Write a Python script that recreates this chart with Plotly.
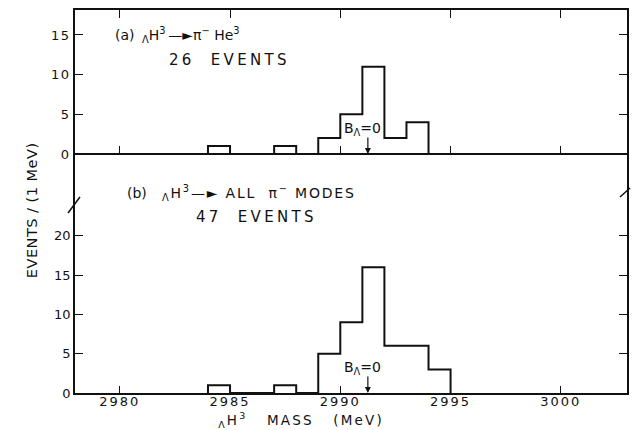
import plotly.graph_objects as go

# Hypertriton mass spectra, 1 MeV bins (left bin edges)
bin_left = [2984, 2985, 2986, 2987, 2988, 2989, 2990, 2991, 2992, 2993, 2994]
counts_a = [1, 0, 0, 1, 0, 2, 5, 11, 2, 4, 0]     # (a) pi- He3 mode, 26 events
counts_b = [1, 0, 0, 1, 0, 5, 9, 16, 6, 6, 3]     # (b) all pi- modes, 47 events
mass_ticks = [2980, 2985, 2990, 2995, 3000]
ticks_a = [0, 5, 10, 15]
ticks_b = [0, 5, 10, 15, 20]
b_zero_mass = 2991.25                              # B_Lambda = 0 threshold

INK = "#111111"
FONT = "DejaVu Sans"

W, H = 633, 430
ML, MR, MT, MB = 75, 4, 10, 37
PLOT_W = W - ML - MR
PLOT_H = H - MT - MB
SPLIT = 0.504                                      # boundary between the two panels

X_RANGE = [2977.97, 3003.0]
YA_RANGE = [-5.8, 18.15]
YB_RANGE = [0, 24.55]


def px2paper(px, py):
    """Convert page pixels to paper coordinates."""
    return (px - ML) / PLOT_W, (H - MB - py) / PLOT_H


def step_xy(counts):
    edges = bin_left + [bin_left[-1] + 1]
    return [edges[0]] + edges, [0] + list(counts) + [0]


def axis_style(ticklen=8, **extra):
    style = dict(showline=True, linecolor=INK, linewidth=1.5, ticks="inside", tickcolor=INK,
                 tickwidth=1.3, ticklen=ticklen, showgrid=False, zeroline=False,
                 tickfont=dict(family=FONT, size=13, color=INK))
    style.update(extra)
    return style


fig = go.Figure()

xa, ya = step_xy(counts_a)
fig.add_trace(go.Scatter(x=xa, y=ya, mode="lines", line=dict(color=INK, width=2, shape="hv"),
                         xaxis="x2", yaxis="y", showlegend=False, hoverinfo="skip"))
# empty trace so the zero-line axis of the upper panel gets its own subplot
fig.add_trace(go.Scatter(x=[], y=[], mode="lines", xaxis="x3", yaxis="y",
                         showlegend=False, hoverinfo="skip"))
xb, yb = step_xy(counts_b)
fig.add_trace(go.Scatter(x=xb, y=yb, mode="lines", line=dict(color=INK, width=2, shape="hv"),
                         xaxis="x", yaxis="y2", showlegend=False, hoverinfo="skip"))

zero_pos = SPLIT + (0 - YA_RANGE[0]) / (YA_RANGE[1] - YA_RANGE[0]) * (1 - SPLIT)

fig.update_layout(
    width=W, height=H,
    margin=dict(l=ML, r=MR, t=MT, b=MB),
    paper_bgcolor="white", plot_bgcolor="white",
    xaxis=axis_style(7, anchor="y2", domain=[0, 1], range=X_RANGE,
                     tickvals=mass_ticks, ticklabelstandoff=-4),
    xaxis2=axis_style(8, anchor="y", side="top", range=X_RANGE,
                      tickvals=mass_ticks, showticklabels=False),
    xaxis3=axis_style(7, overlaying="x2", anchor="free", position=zero_pos,
                      side="bottom", range=X_RANGE, tickvals=mass_ticks, showticklabels=False),
    yaxis=axis_style(8, anchor="x2", domain=[SPLIT, 1], range=YA_RANGE,
                     tickvals=ticks_a, mirror="ticks", ticklabelstandoff=0),
    yaxis2=axis_style(8, anchor="x", domain=[0, SPLIT], range=YB_RANGE,
                      tickvals=ticks_b, mirror="ticks", ticklabelstandoff=0),
)

NB = "\u00a0"
THIN = "\u2009"
annotations = []
spaced = {}          # annotation index -> letter spacing (px)


def add_text(text, x, y, xref, yref, size=14, spacing=0, **kw):
    ann = dict(text=text, x=x, y=y, xref=xref, yref=yref, showarrow=False,
               font=dict(family=FONT, size=size, color=INK))
    ann.update(kw)
    if spacing:
        spaced[len(annotations)] = spacing
    annotations.append(ann)


left = dict(xanchor="left", align="left", yanchor="middle")

# panel (a) header
add_text("(a)", 2979.68, 15, "x2", "y", **left)
add_text(f"<sub>Λ</sub>H<sup>3</sup>{THIN}—►π<sup>−</sup> He<sup>3</sup>", 2980.92, 15,
         "x2", "y", **left)
add_text(f"26{NB*2}EVENTS", 2982.12, 11.85, "x2", "y", size=15, spacing=3.3, **left)

# panel (b) header (placed in paper space: it sits above the lower axis range)
bx, by = px2paper(125, 193)
add_text("(b)", bx, by, "paper", "paper", **left)
fx, fy = px2paper(160, 193)
add_text(f"<sub>Λ</sub>H<sup>3</sup>—► ALL{NB*2}π<sup>−</sup> MODES", fx, fy, "paper", "paper",
         spacing=1.8, **left)
add_text(f"47{NB*2}EVENTS", 2983.38, 22.4, "x", "y2", size=15, spacing=3.3, **left)

# B_Lambda = 0 markers in both panels
for xref, yref in (("x2", "y"), ("x", "y2")):
    annotations.append(dict(text="", x=b_zero_mass, y=0, xref=xref, yref=yref, ax=0, ay=-18,
                            showarrow=True, arrowhead=2, arrowsize=1, arrowwidth=1.2,
                            arrowcolor=INK))
    add_text("B<sub>Λ</sub>=0", b_zero_mass, 0, xref, yref, size=14, xshift=-5, yshift=25,
             xanchor="center", yanchor="middle")

# axis titles
tx, ty = px2paper(302, 420)
add_text(f"<sub>Λ</sub>H<sup>3</sup>{NB*3}MASS{NB*3}(MeV)", tx, ty, "paper", "paper",
         size=13.5, spacing=2.2, xanchor="center", yanchor="middle")
yx, yy = px2paper(32, 210)
add_text("EVENTS / (1 MeV)", yx, yy, "paper", "paper", size=14.5, spacing=0.5,
         xanchor="center", yanchor="middle", textangle=-90)

fig.update_layout(annotations=annotations)

# axis-break strokes on the left and right frame lines
shapes = []
for (x0, y0), (x1, y1) in (((68, 213), (80, 197)), ((622, 197), (632, 188))):
    p0 = px2paper(x0, y0)
    p1 = px2paper(x1, y1)
    shapes.append(dict(type="line", xref="paper", yref="paper", x0=p0[0], y0=p0[1],
                       x1=p1[0], y1=p1[1], line=dict(color=INK, width=1.5)))
fig.update_layout(shapes=shapes)

# wide, hand-lettered look: extra letter spacing on tick labels and selected texts
css = [".xtick text { letter-spacing: 2px; }", ".ytick text { letter-spacing: 1.5px; }"]
for idx, sp in spaced.items():
    css.append(f'g.annotation[data-index="{idx}"] text {{ letter-spacing: {sp}px; }}')
style_js = (
    "var st = document.createElement('style');"
    f"st.textContent = {' '.join(css)!r};"
    "document.head.appendChild(st);"
)

fig.write_html("out.html", post_script=style_js)
